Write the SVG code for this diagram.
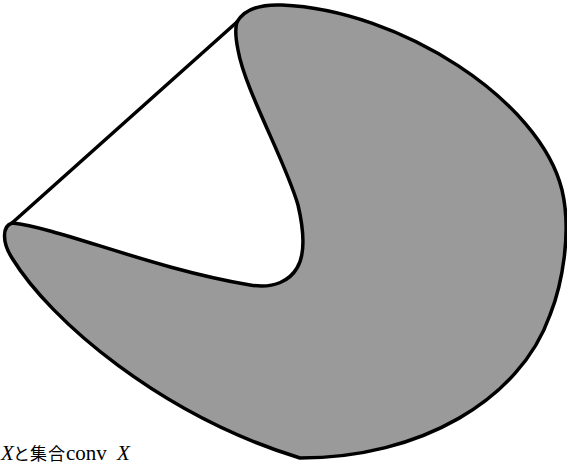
<svg xmlns="http://www.w3.org/2000/svg" width="567" height="469" viewBox="0 0 567 469">
  <style>
    .outline { stroke: #000; stroke-width: 3.5; stroke-linejoin: round; stroke-linecap: round; }
    .setX { fill: #9a9a9a; }
    .hull { fill: none; }
    .lbl { font-family: "Liberation Serif", "Noto Sans CJK JP", serif; font-size: 21px; fill: #000; }
    .cjk { font-family: "Noto Sans CJK JP", sans-serif; font-size: 17px; }
    .it { font-style: italic; }
  </style>
  <rect width="567" height="469" fill="#fff"/>
  <g id="setX">
    <path class="setX outline" d="M 237,22 C 244,10 260,4 282,5 C 400,10 540,100 562,190 C 572,232 562,285 550,315 C 520,400 420,458 300,458 C 160,415 50,320 12,258 C 2,242 2,226 12,223 C 60,228 150,268 250,285 C 275,289 290,280 297,268 C 305,255 305,235 298,205 C 285,160 245,90 238,50 C 235,35 235,28 237,22 Z"/>
  </g>
  <g id="connectors">
    <line class="outline hull" x1="12" y1="223" x2="237" y2="22"/>
  </g>
  <g id="caption">
    <text class="lbl" y="460"><tspan class="it" x="1">X</tspan><tspan class="cjk" x="13">と</tspan><tspan class="cjk" x="30">集</tspan><tspan class="cjk" x="48">合</tspan><tspan x="66">conv</tspan><tspan class="it" x="117">X</tspan></text>
  </g>
</svg>
